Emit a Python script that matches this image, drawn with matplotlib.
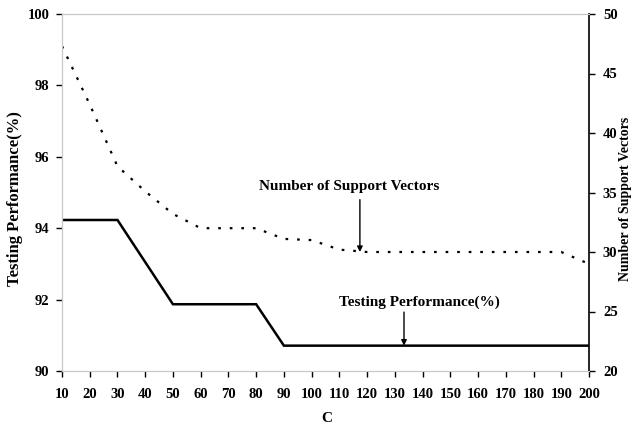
import matplotlib
matplotlib.use("Agg")
import matplotlib.pyplot as plt

C = [10, 20, 30, 40, 50, 60, 70, 80, 90, 100, 110, 120, 130, 140, 150, 160, 170, 180, 190, 200]
testing_perf = [94.23, 94.23, 94.23, 93.05, 91.87, 91.87, 91.87, 91.87, 90.71, 90.71,
                90.71, 90.71, 90.71, 90.71, 90.71, 90.71, 90.71, 90.71, 90.71, 90.71]
support_vectors = [47.3, 42.4, 37.2, 35.1, 33.2, 32, 32, 32, 31.1, 31, 30.2, 30, 30, 30, 30, 30, 30, 30, 30, 29]
left_ticks = [90, 92, 94, 96, 98, 100]
right_ticks = [20, 25, 30, 35, 40, 45, 50]

plt.rcParams['font.family'] = ['Liberation Serif', 'DejaVu Serif']
plt.rcParams['font.weight'] = 'bold'

fig = plt.figure(figsize=(6.36, 4.26), dpi=100)
ax = fig.add_axes([62/636, 1-371/426, (589-62)/636, (371-14)/426])
ax2 = ax.twinx()

ax.plot(C, testing_perf, color='black', lw=1.8, solid_joinstyle='miter')
ax2.plot(C, support_vectors, color='black', lw=1.6, linestyle=(0, (1.2, 4.0)))

ax.set_xlim(10, 200)
ax.set_ylim(90, 100)
ax2.set_ylim(20, 50)
ax.set_xticks(C)
ax.set_xticklabels([str(c) for c in C], fontsize=10.5, fontweight='bold')
ax.set_yticks(left_ticks)
ax.set_yticklabels([str(t) for t in left_ticks], fontsize=10.5, fontweight='bold')
ax2.set_yticks(right_ticks)
ax2.set_yticklabels([str(t) for t in right_ticks], fontsize=10.5, fontweight='bold')

for a in (ax, ax2):
    a.tick_params(direction='out', length=4, width=1, color='black')
ax.tick_params(axis='x', pad=8)
ax.tick_params(axis='y', pad=5)
ax2.tick_params(axis='y', pad=6)

gray = '#c8c8c8'
for s in ('left', 'top', 'bottom'):
    ax.spines[s].set_color(gray)
    ax2.spines[s].set_color(gray)
ax.spines['right'].set_visible(False)
ax2.spines['right'].set_color('black')
ax2.spines['right'].set_linewidth(1.2)

fig.text(327/636, 1-418/426, 'C', ha='center', va='center', fontsize=11, fontweight='bold')
fig.text(15/636, 1-199/426, 'Testing Performance(%)', ha='center', va='center',
         rotation=90, fontsize=12, fontweight='bold')
fig.text(626/636, 1-199/426, 'Number of Support Vectors', ha='center', va='center',
         rotation=90, fontsize=10, fontweight='bold')

ax2.text(113.5, 35.5, 'Number of Support Vectors', ha='center', va='center',
         fontsize=11, fontweight='bold')
ax2.annotate('', xy=(117.4, 30), xytext=(117.4, 34.4),
             arrowprops=dict(arrowstyle='-|>', color='black', lw=1, mutation_scale=8,
                             shrinkA=0, shrinkB=0))
ax.text(139, 91.93, 'Testing Performance(%)', ha='center', va='center',
        fontsize=11, fontweight='bold')
ax.annotate('', xy=(133.3, 90.71), xytext=(133.3, 91.65),
            arrowprops=dict(arrowstyle='-|>', color='black', lw=1, mutation_scale=8,
                            shrinkA=0, shrinkB=0))

fig.savefig('out.png', dpi=100, facecolor='white')
